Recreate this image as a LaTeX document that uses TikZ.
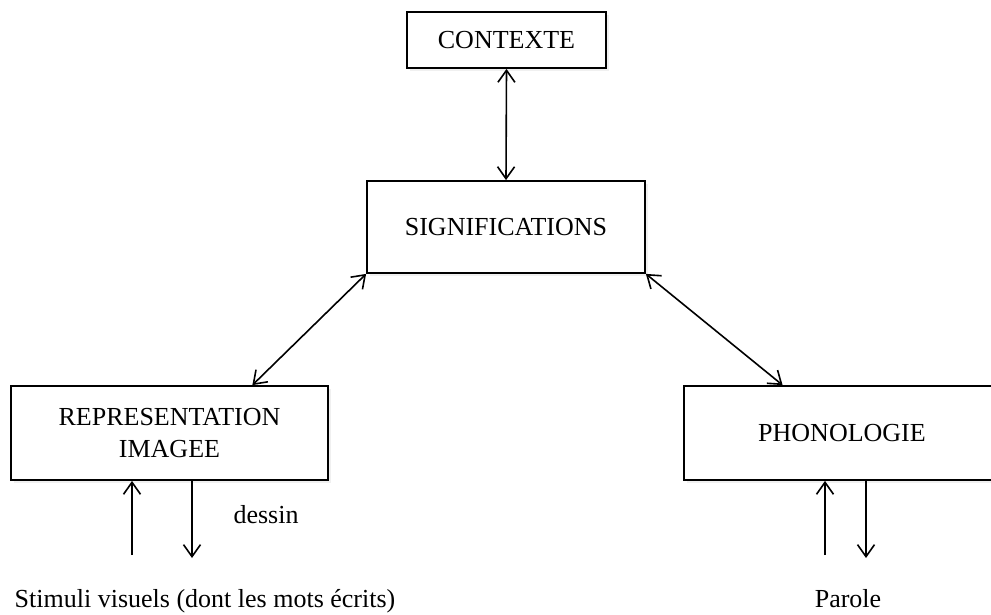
\documentclass[tikz,border=0pt]{standalone}
\usepackage{fontspec}
\setmainfont{Liberation Serif}
\usetikzlibrary{arrows.meta,calc,shadows}
\begin{document}
\begin{tikzpicture}[x=1pt,y=-1pt,
  box/.style={draw,line width=1.8pt,fill=white,inner sep=0pt,anchor=center,align=center,
    font=\fontsize{26}{32}\selectfont,
    drop shadow={opacity=0.12,shadow xshift=3pt,shadow yshift=-3pt}},
  lbl/.style={inner sep=0pt,font=\fontsize{26}{31}\selectfont},
  tip/.tip={Straight Barb[length=12pt,width=17pt]},
  conn/.style={line width=1.6pt,tip-tip},
  one/.style={line width=1.6pt,-tip}]
\useasboundingbox (0,0) rectangle (991,614);
\node[box,minimum width=199pt,minimum height=56pt] (ctx) at (506.5,40) {CONTEXTE};
\node[box,minimum width=278pt,minimum height=92pt] (sig) at (506,227) {SIGNIFICATIONS};
\node[box,minimum width=317pt,minimum height=94pt] (rep) at (169.5,433) {REPRESENTATION\\IMAGEE};
\node[box,minimum width=316pt,minimum height=94pt] (pho) at (842,433) {PHONOLOGIE};
\node[lbl,anchor=base] (dessin) at (266,523) {dessin};
\node[lbl,anchor=base] (stim) at (205,607) {Stimuli visuels (dont les mots écrits)};
\node[lbl,anchor=base] (parole) at (848,607) {Parole};
% connectors
\draw[conn] (ctx.south) -- (sig.north);
\draw[conn] (sig.south west) -- ($(rep.north west)!0.76!(rep.north east)$);
\draw[conn] (sig.south east) -- ($(pho.north west)!0.313!(pho.north east)$);
\coordinate (ru) at (132,555);
\coordinate (rd) at (192,558);
\coordinate (pu) at (825,555);
\coordinate (pd) at (866,558);
\draw[one] (ru) -- (ru |- rep.south);
\draw[one] (rd |- rep.south) -- (rd);
\draw[one] (pu) -- (pu |- pho.south);
\draw[one] (pd |- pho.south) -- (pd);
\end{tikzpicture}
\end{document}
